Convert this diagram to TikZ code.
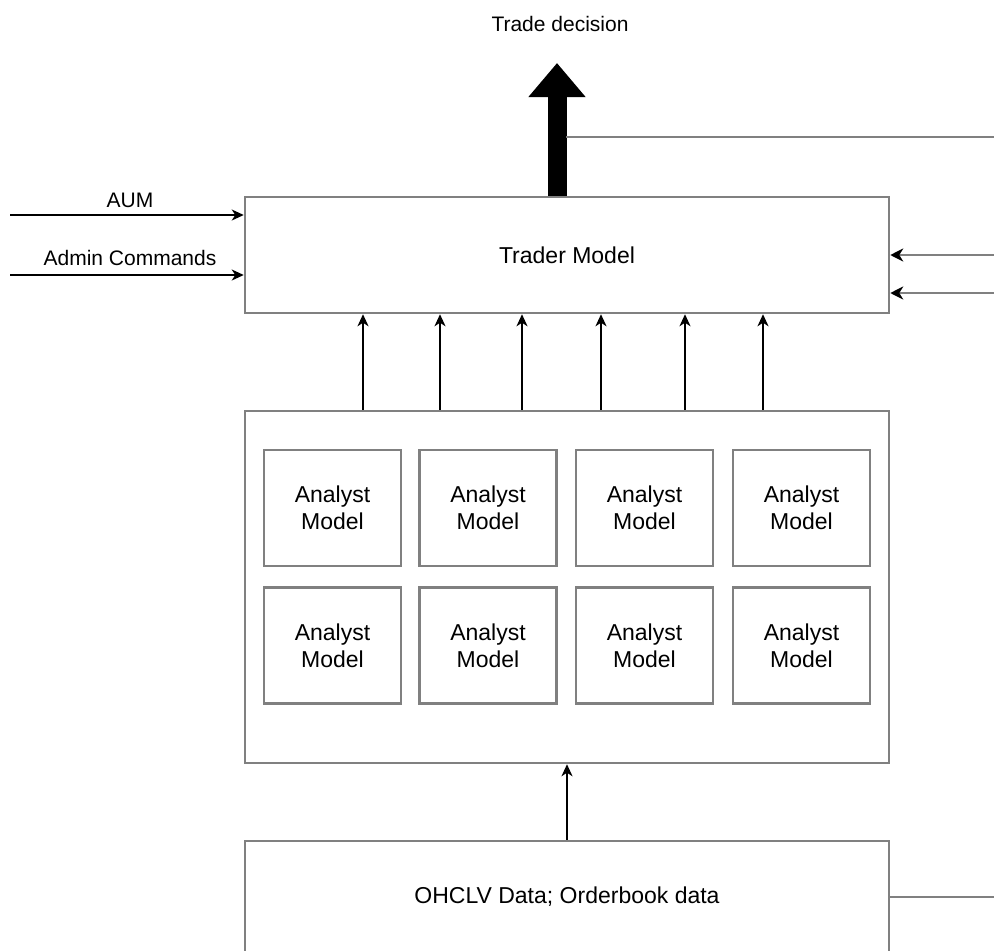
\documentclass[tikz,border=0pt]{standalone}
\usepackage{fontspec}
\setmainfont{Liberation Sans}
\usetikzlibrary{arrows.meta}
\definecolor{boxgray}{RGB}{128,128,128}
\begin{document}
\begin{tikzpicture}[x=1pt,y=-1pt,
  box/.style={draw=boxgray,line width=2.5pt,inner sep=0pt,align=center,font=\fontsize{23}{27}\selectfont},
  lbl/.style={inner sep=0pt,font=\fontsize{21}{25}\selectfont},
  arr/.style={draw=black,line width=1.5pt,-{Stealth[length=12pt,width=11pt,inset=3.5pt]}},
  garr/.style={draw=boxgray,line width=2.5pt,-{Stealth[length=13pt,width=13pt,inset=4pt,color=black]}},
  gline/.style={draw=boxgray,line width=2.5pt}]
\fill[white] (0,0) rectangle (994,951);
\useasboundingbox (0,0) rectangle (994,951);

% main boxes
\node[box,minimum width=644pt,minimum height=116pt] (trader) at (567,255) {Trader Model};
\node[box,minimum width=644pt,minimum height=352pt] (pool) at (567,587) {};
\node[box,minimum width=644pt,minimum height=112pt] (data) at (567,897) {OHCLV Data; Orderbook data};

% analyst boxes
\foreach \i/\x in {1/332.5,2/488,3/644.5,4/801.5}{
  \node[box,minimum width=137pt,minimum height=116pt] (a1\i) at (\x,508) {Analyst\\Model};
  \node[box,minimum width=137pt,minimum height=116pt] (a2\i) at (\x,645.5) {Analyst\\Model};
}

% labels
\node[lbl] (aum) at (130,200) {AUM};
\node[lbl] (admin) at (130,258) {Admin Commands};
\node[lbl] (decision) at (560,24) {Trade decision};

% left inputs
\coordinate (aumS) at (10,215);
\coordinate (adminS) at (10,275);
\draw[arr] (aumS) -- (aumS -| trader.west);
\draw[arr] (adminS) -- (adminS -| trader.west);

% right inputs
\coordinate (r1) at (994,255);
\coordinate (r2) at (994,293);
\draw[garr] (r1) -- (r1 -| trader.east);
\draw[garr] (r2) -- (r2 -| trader.east);

% thick output arrow
\coordinate (tip) at (557,63);
\draw[line width=19pt,-{Triangle[length=34pt,width=55pt]}] (tip |- trader.north) -- (tip);

% top line to right
\coordinate (shaftR) at (566,137);
\coordinate (topR) at (994,137);
\draw[gline] (shaftR) -- (topR);

% analysts to trader
\foreach \x in {363,440,522,601,685,763}{
  \coordinate (c\x) at (\x,0);
  \draw[arr] (c\x |- pool.north) -- (c\x |- trader.south);
}

% data to analysts
\draw[arr] (data.north) -- (pool.south);

% data right line
\coordinate (dataR) at (994,897);
\draw[gline] (data.east) -- (dataR);
\end{tikzpicture}
\end{document}
